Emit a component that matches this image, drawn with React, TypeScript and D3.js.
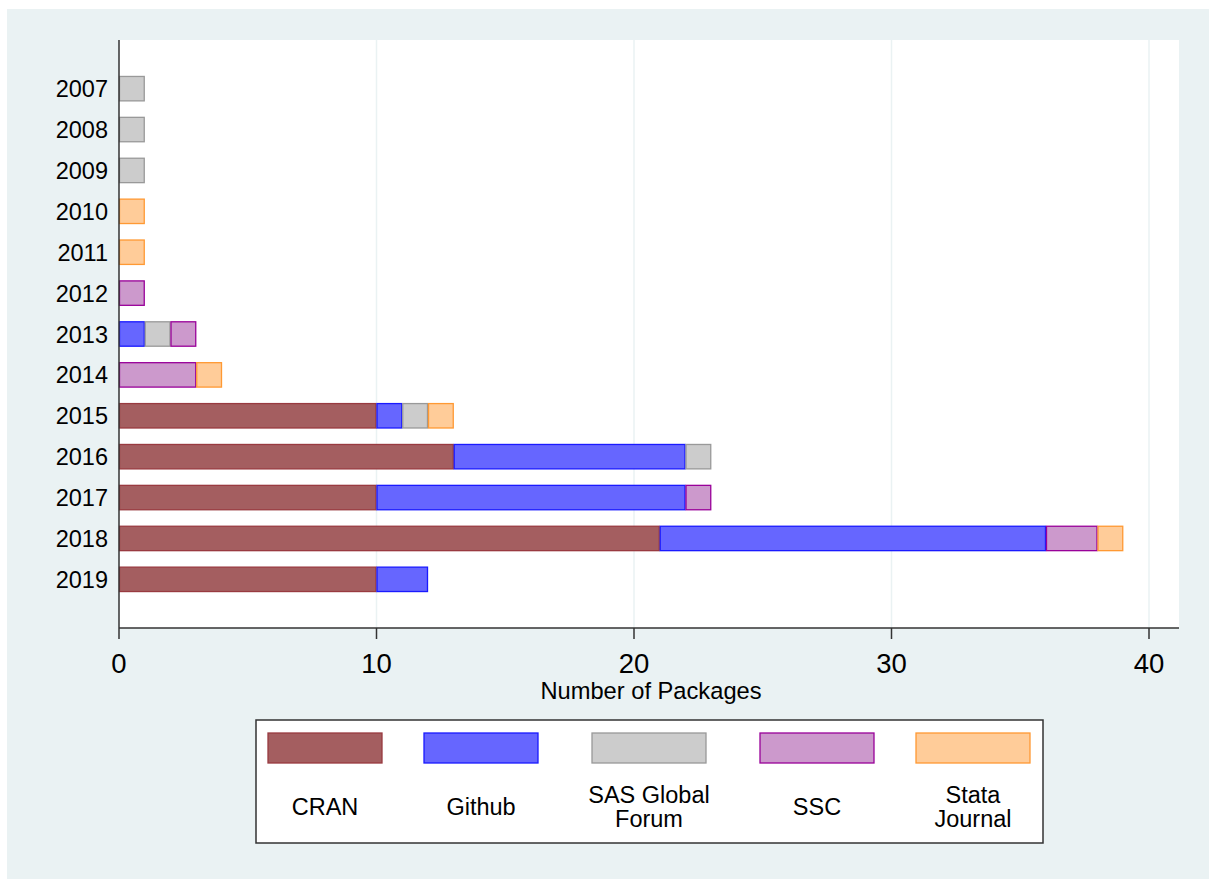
import React from "react";
import * as d3 from "d3";

const years = ["2007", "2008", "2009", "2010", "2011", "2012", "2013", "2014", "2015", "2016", "2017", "2018", "2019"];
const seriesNames = ["CRAN", "Github", "SAS Global Forum", "SSC", "Stata Journal"];
const legendLines = [["CRAN"], ["Github"], ["SAS Global", "Forum"], ["SSC"], ["Stata", "Journal"]];
const cran = [0, 0, 0, 0, 0, 0, 0, 0, 10, 13, 10, 21, 10];
const github = [0, 0, 0, 0, 0, 0, 1, 0, 1, 9, 12, 15, 2];
const sas = [1, 1, 1, 0, 0, 0, 1, 0, 1, 1, 0, 0, 0];
const ssc = [0, 0, 0, 0, 0, 1, 1, 3, 0, 0, 1, 2, 0];
const stataJournal = [0, 0, 0, 1, 1, 0, 0, 1, 1, 0, 0, 1, 0];
const xTicks = [0, 10, 20, 30, 40];
const fills = ["#A45E60", "#6666FF", "#CCCCCC", "#CC99CC", "#FFCC99"];
const strokes = ["#993A40", "#1A1AFF", "#999999", "#990099", "#FF9933"];

export default function App() {
  const allSeries = [cran, github, sas, ssc, stataJournal];
  const left = 119, right = 1179, top = 40, bottom = 628;
  const x = d3.scaleLinear().domain([0, 40]).range([left, 1149]);
  const y = d3.scalePoint<string>().domain(years).range([top, bottom]).padding(1.19);
  const barH = y.step() * 0.597;

  const rows = years.map((yr, i) => {
    let acc = 0;
    return allSeries.map((s, k) => {
      const x0 = acc;
      acc += s[i];
      return { yr, k, x0, x1: acc, v: s[i] };
    }).filter(d => d.v > 0);
  });

  const font = "'Liberation Sans', Arial, Helvetica, sans-serif";
  const legendPos = [268, 424, 592, 760, 916];
  const ox = 7, oy = 9;

  return (
    <svg width={1209 - ox} height={879 - oy}
      style={{ display: "block", position: "fixed", left: ox, top: oy }} fontFamily={font}>
      <g transform={`translate(${-ox},${-oy})`}>
        <rect x={0} y={0} width={1220} height={890} fill="#EAF2F3" />
        <rect x={left} y={top} width={right - left} height={bottom - top} fill="#FFFFFF" />
        {xTicks.filter(t => t > 0).map(t => (
          <line key={"g" + t} x1={x(t)} x2={x(t)} y1={top} y2={bottom} stroke="#EAF2F3" strokeWidth={1.5} />
        ))}
        {rows.map((r, i) => r.map(d => (
          <rect key={d.yr + "-" + d.k}
            x={x(d.x0) + 0.5} width={x(d.x1) - x(d.x0) - 1}
            y={(y(d.yr) as number) - barH / 2} height={barH}
            fill={fills[d.k]} stroke={strokes[d.k]} strokeWidth={1.3} />
        )))}
        <line x1={left} x2={right} y1={bottom} y2={bottom} stroke="#333" strokeWidth={1.5} />
        <line x1={left} x2={left} y1={top} y2={bottom} stroke="#333" strokeWidth={1.5} />
        {xTicks.map(t => (
          <g key={"t" + t}>
            <line x1={x(t)} x2={x(t)} y1={bottom} y2={bottom + 11} stroke="#333" strokeWidth={1.5} />
            <text x={x(t)} y={673} textAnchor="middle" fontSize={27.5} fill="#000">{t}</text>
          </g>
        ))}
        {years.map(yr => (
          <text key={"y" + yr} x={108} y={(y(yr) as number) + 8.5} textAnchor="end" fontSize={23.5} fill="#000">{yr}</text>
        ))}
        <text x={651} y={699} textAnchor="middle" fontSize={23.7} fill="#000">Number of Packages</text>
        <rect x={256} y={720} width={787} height={123} fill="#FFFFFF" stroke="#333" strokeWidth={1.5} />
        {seriesNames.map((n, k) => {
          const sx = legendPos[k];
          const lines = legendLines[k];
          return (
            <g key={"l" + n}>
              <rect x={sx} y={733} width={114} height={30} fill={fills[k]} stroke={strokes[k]} strokeWidth={1.3} />
              {lines.length === 1 ? (
                <text x={sx + 57} y={815} textAnchor="middle" fontSize={23.5} fill="#000">{lines[0]}</text>
              ) : (
                <text x={sx + 57} y={803} textAnchor="middle" fontSize={23.5} fill="#000">
                  <tspan x={sx + 57} dy={0}>{lines[0]}</tspan>
                  <tspan x={sx + 57} dy={23.5}>{lines[1]}</tspan>
                </text>
              )}
            </g>
          );
        })}
      </g>
    </svg>
  );
}
